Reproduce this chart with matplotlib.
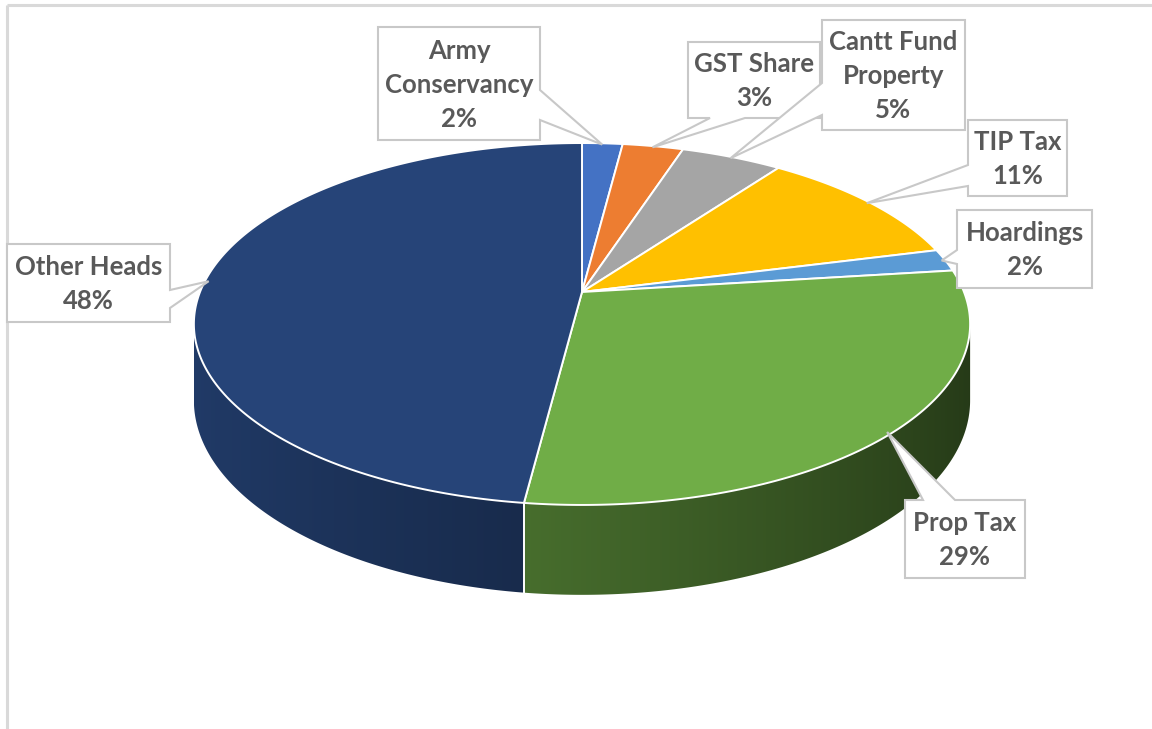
import numpy as np
import matplotlib
matplotlib.use("Agg")
import matplotlib.pyplot as plt
from matplotlib.patches import Polygon
from matplotlib.colors import to_rgb

# Revenue heads and their shares (%)
categories = ["Army\nConservancy", "GST Share", "Cantt Fund\nProperty", "TIP Tax",
              "Hoardings", "Prop Tax", "Other Heads"]
shares = [2, 3, 5, 11, 2, 29, 48]
colors = ["#4472C4", "#ED7D31", "#A5A5A5", "#FFC000", "#5B9BD5", "#70AD47", "#264478"]

# Callout boxes: (x0, y0, x1, y1), side carrying the pointer, pointer base span
boxes = [(378, 27, 540, 140), (688, 42, 820, 118), (822, 20, 965, 130),
         (968, 120, 1067, 196), (957, 210, 1092, 288), (905, 500, 1025, 578),
         (7, 244, 170, 322)]
pointer_side = ["right", "bottom", "left", "left", "left", "top", "right"]
pointer_base = [(90, 120), (710, 745), (83, 115), (165, 186), (250, 264),
                (923, 955), (290, 308)]

W, H = 1152, 729
CX, CY = 582.0, 292.0        # pie apex on screen
A, B = 382.0, 175.3          # horizontal / depth radii
K = 0.1768                   # perspective strength
D = 74.0                     # thickness


def proj(theta, r=1.0, z=0.0):
    t = np.radians(theta)
    u = r * np.sin(t)
    v = r * np.cos(t)
    w = 1 + K * v
    return CX + A * u / w, CY - B * v / w + D * z / w


def shade(c, theta):
    f = 0.60 + 0.27 * np.cos(np.radians(theta - 270))
    return np.clip(np.array(to_rgb(c)) * f, 0, 1)


fig = plt.figure(figsize=(W / 100, H / 100), dpi=100)
ax = fig.add_axes([0, 0, 1, 1])
ax.set_xlim(0, W)
ax.set_ylim(H, 0)
ax.axis("off")

# outer frame
ax.plot([7, 7], [H, 5], color="#D9D9D9", lw=2.2, solid_capstyle="butt", zorder=1)
ax.plot([7, W], [5, 5], color="#D9D9D9", lw=2.2, solid_capstyle="butt", zorder=1)

total = float(sum(shares))
bounds = np.concatenate([[0], np.cumsum(shares)]) / total * 360.0

# visible part of the cylinder wall lies between the two silhouette angles
sil_a = np.degrees(np.arccos(-K))
sil_b = 360 - sil_a

for i, c in enumerate(colors):
    a0, a1 = max(bounds[i], sil_a), min(bounds[i + 1], sil_b)
    if a1 <= a0:
        continue
    ts = np.linspace(a0, a1, 200)
    top = [proj(t) for t in ts]
    bot = [proj(t, z=1) for t in ts[::-1]]
    wall = Polygon(top + bot, closed=True, facecolor="none", edgecolor="none")
    ax.add_patch(wall)
    xs = np.array([p[0] for p in top])
    order = np.argsort(xs)
    xmin, xmax = xs.min(), xs.max()
    ymin = min(p[1] for p in top)
    ymax = max(p[1] for p in bot)
    gx = np.linspace(xmin, xmax, 400)
    gt = np.interp(gx, xs[order], ts[order])
    cols = np.array([shade(c, t) for t in gt])
    img = np.repeat(cols[None, :, :], 2, axis=0)
    im = ax.imshow(img, extent=(xmin, xmax, ymax, ymin), aspect="auto",
                   interpolation="bilinear", zorder=2)
    im.set_clip_path(wall)

# white seams on the visible part of the wall
for b in bounds:
    if sil_a < b < sil_b:
        x0, y0 = proj(b)
        x1, y1 = proj(b, z=1)
        ax.plot([x0, x1], [y0, y1], color="white", lw=1.4, zorder=3)

# top faces
for i, c in enumerate(colors):
    a0, a1 = bounds[i], bounds[i + 1]
    ts = np.linspace(a0, a1, max(3, int((a1 - a0) * 2)))
    pts = [(CX, CY)] + [proj(t) for t in ts]
    ax.add_patch(Polygon(pts, closed=True, facecolor=c, edgecolor="white",
                         lw=1.4, joinstyle="round", zorder=4))


def callout_poly(box, side, base, tip):
    x0, y0, x1, y1 = box
    b0, b1 = base
    if side == "right":
        return [(x0, y0), (x1, y0), (x1, b0), tip, (x1, b1), (x1, y1), (x0, y1)]
    if side == "left":
        return [(x0, y0), (x1, y0), (x1, y1), (x0, y1), (x0, b1), tip, (x0, b0)]
    if side == "bottom":
        return [(x0, y0), (x1, y0), (x1, y1), (b1, y1), tip, (b0, y1), (x0, y1)]
    return [(x0, y0), (b0, y0), tip, (b1, y0), (x1, y0), (x1, y1), (x0, y1)]


for i, name in enumerate(categories):
    mid = (bounds[i] + bounds[i + 1]) / 2
    tip = proj(mid, r=0.99)
    poly = callout_poly(boxes[i], pointer_side[i], pointer_base[i], tip)
    ax.add_patch(Polygon(poly, closed=True, facecolor="white", edgecolor="#C8C8C8",
                         lw=1.5, joinstyle="miter", zorder=6))
    x0, y0, x1, y1 = boxes[i]
    ax.text((x0 + x1) / 2, (y0 + y1) / 2 + 1, f"{name}\n{shares[i]}%",
            ha="center", va="center", ma="center", fontsize=18.5,
            fontweight="bold", color="#595959", linespacing=1.5,
            family=["Lato", "DejaVu Sans"], zorder=7)

fig.savefig("out.png", dpi=100, facecolor="white")
